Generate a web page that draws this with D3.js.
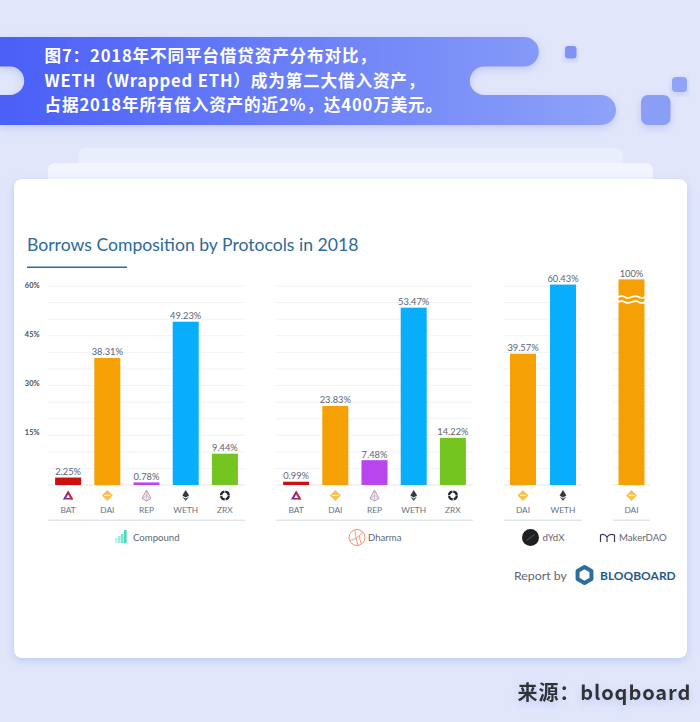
<!DOCTYPE html>
<html>
<head>
<meta charset="utf-8">
<script src="https://cdn.jsdelivr.net/npm/d3@7"></script>
<style>
  html, body { margin: 0; padding: 0; background: #e1e6fb; }
  svg { display: block; }
  text { font-family: Lato, sans-serif; }
  .cjk { font-family: "Noto Sans CJK SC", sans-serif; font-weight: 700; }
</style>
</head>
<body>
<div id="chart"></div>
<script>
// values
const compoundTokens = ["BAT", "DAI", "REP", "WETH", "ZRX"];
const compoundValues = [2.25, 38.31, 0.78, 49.23, 9.44];
const dharmaTokens = ["BAT", "DAI", "REP", "WETH", "ZRX"];
const dharmaValues = [0.99, 23.83, 7.48, 53.47, 14.22];
const dydxTokens = ["DAI", "WETH"];
const dydxValues = [39.57, 60.43];
const makerTokens = ["DAI"];
const makerValues = [100];
const yTicks = [15, 30, 45, 60];
const gridTicks = d3.range(5, 65, 5);
const headerLines = [
  "图7：2018年不同平台借贷资产分布对比，",
  "WETH（Wrapped ETH）成为第二大借入资产，",
  "占据2018年所有借入资产的近2%，达400万美元。"
];
const chartTitle = "Borrows Composition by Protocols in 2018";

const tokenColor = { BAT: "#cc1010", DAI: "#f5a105", REP: "#b845ee", WETH: "#08aefb", ZRX: "#74c520" };

const width = 700, height = 722;
const svg = d3.select("#chart").append("svg").attr("width", width).attr("height", height);
const defs = svg.append("defs");

const grad = defs.append("linearGradient").attr("id", "headGrad");
grad.append("stop").attr("offset", "0").attr("stop-color", "#4a5ff6");
grad.append("stop").attr("offset", "1").attr("stop-color", "#8ea2f9");

const soft = defs.append("filter").attr("id", "soft").attr("x", "-20%").attr("y", "-20%").attr("width", "140%").attr("height", "150%");
soft.append("feDropShadow").attr("dx", 0).attr("dy", 3).attr("stdDeviation", 4).attr("flood-color", "#8f9fe8").attr("flood-opacity", 0.4);

// background
svg.append("rect").attr("width", width).attr("height", height).attr("fill", "#e1e6fb");

// header ribbon
const ribbon = d3.path();
ribbon.moveTo(0, 37);
ribbon.lineTo(524, 37);
ribbon.arc(524, 51.8, 14.8, -Math.PI / 2, Math.PI / 2);
ribbon.lineTo(484, 66.6);
ribbon.arc(484, 80.8, 14.2, -Math.PI / 2, Math.PI / 2, true);
ribbon.lineTo(601, 95);
ribbon.arc(601, 110, 15, -Math.PI / 2, Math.PI / 2);
ribbon.lineTo(0, 125);
ribbon.lineTo(0, 95);
ribbon.lineTo(10, 95);
ribbon.arc(10, 80.8, 14.2, Math.PI / 2, -Math.PI / 2, true);
ribbon.lineTo(0, 66.6);
ribbon.closePath();
svg.append("path").attr("d", ribbon.toString()).attr("fill", "url(#headGrad)").attr("filter", "url(#soft)");

svg.selectAll(".head").data(headerLines).enter().append("text")
  .attr("class", "cjk")
  .attr("x", 44.5)
  .attr("y", (d, i) => 62.3 + i * 24.4)
  .attr("fill", "#fff")
  .attr("font-size", 16.6)
  .attr("letter-spacing", 0.85)
  .text(d => d);

// little squares right of the ribbon
const squares = [[565, 46, 11.5, 12.5, 3, "#7f93f3"], [672, 77, 15, 15, 4, "#8fa3f8"], [641, 95, 29.5, 30, 7, "#8a9ef6"]];
svg.selectAll(".sq").data(squares).enter().append("rect")
  .attr("x", d => d[0]).attr("y", d => d[1]).attr("width", d => d[2]).attr("height", d => d[3]).attr("rx", d => d[4])
  .attr("fill", d => d[5]).attr("filter", "url(#soft)");

// stacked cards
svg.append("rect").attr("x", 78).attr("y", 148).attr("width", 545).attr("height", 60).attr("rx", 7).attr("fill", "#eaeefc");
svg.append("rect").attr("x", 48).attr("y", 163).attr("width", 605).attr("height", 60).attr("rx", 7).attr("fill", "#f2f5fd");
svg.append("rect").attr("x", 14).attr("y", 179).attr("width", 673).attr("height", 479).attr("rx", 8).attr("fill", "#fff").attr("filter", "url(#soft)");

// title
svg.append("text").attr("x", 27).attr("y", 250.5).attr("font-size", 17.6).attr("fill", "#2b6a9b").text(chartTitle);
svg.append("rect").attr("x", 27).attr("y", 266.5).attr("width", 100).attr("height", 1.5).attr("fill", "#2b6a9b");

// shared y scale, 0 at the baseline
const y = d3.scaleLinear().domain([0, 60]).range([485, 286]);

// the tick labels sit a little above their gridlines in the original
const yLabel = d3.scaleLinear().domain([15, 60]).range([432.3, 284.7]);
const yAxis = d3.axisLeft(yLabel).tickValues(yTicks).tickSize(0).tickFormat(d => d + "%");
const yG = svg.append("g").attr("transform", "translate(39.5,0)").call(yAxis);
yG.select(".domain").remove();
yG.selectAll("text").attr("font-size", 7.4).attr("font-weight", 700).attr("fill", "#4a4f57").attr("x", 0).attr("text-anchor", "end");

// token icons
function drawIcon(g, token) {
  if (token === "BAT") {
    g.append("path").attr("d", "M0,-5 L5.2,4 L-5.2,4 Z").attr("fill", "#7b2a9c");
    g.append("path").attr("d", "M0,-5 L5.2,4 L2.4,4 L0,-0.6 Z").attr("fill", "#d8262c");
    g.append("path").attr("d", "M0,-1 L2,2.6 L-2,2.6 Z").attr("fill", "#fff");
  } else if (token === "DAI") {
    g.append("path").attr("d", "M0,-5.5 L5.5,0 L0,5.5 L-5.5,0 Z").attr("fill", "#f9c14a");
    g.append("rect").attr("x", -3).attr("y", -0.6).attr("width", 6).attr("height", 1).attr("fill", "#fff");
  } else if (token === "REP") {
    g.append("path").attr("d", "M0,-5.5 L4.5,3 L0,5.5 L-4.5,3 Z").attr("fill", "#f3e6f0").attr("stroke", "#a98aa5").attr("stroke-width", 0.8);
    g.append("path").attr("d", "M0,-5.5 L0,5.5 M-4.5,3 L0,0 L4.5,3").attr("fill", "none").attr("stroke", "#b99fb5").attr("stroke-width", 0.5);
  } else if (token === "WETH") {
    g.append("path").attr("d", "M0,-5.5 L3.4,0 L0,2 L-3.4,0 Z").attr("fill", "#333a40");
    g.append("path").attr("d", "M-3.4,1 L0,3 L3.4,1 L0,5.5 Z").attr("fill", "#4a5158");
  } else if (token === "ZRX") {
    g.append("circle").attr("r", 3.9).attr("fill", "none").attr("stroke", "#20252b").attr("stroke-width", 2.2).attr("stroke-dasharray", "5.2 0.9");
  }
}

// one panel per protocol
function drawPanel(tokens, values, x0, x1, barStep) {
  const pad = (x1 - x0 - barStep * tokens.length) / 2;
  const x = d3.scaleBand().domain(tokens).range([x0 + pad, x1 - pad]).paddingInner(1 - 26 / barStep).paddingOuter((1 - 26 / barStep) / 2);
  const g = svg.append("g");

  g.selectAll(".grid").data(gridTicks).enter().append("line")
    .attr("x1", x0).attr("x2", x1).attr("y1", d => y(d)).attr("y2", d => y(d))
    .attr("stroke", "#f0f2f5").attr("stroke-width", 1);
  g.append("line").attr("x1", x0).attr("x2", x1).attr("y1", y(0)).attr("y2", y(0)).attr("stroke", "#e4e6ea").attr("stroke-width", 1);

  // the 100% bar is broken, so its height stops just above the axis top
  const capped = v => y(Math.min(v, 62));
  g.selectAll(".bar").data(tokens).enter().append("rect")
    .attr("x", d => x(d))
    .attr("width", x.bandwidth())
    .attr("y", (d, i) => capped(values[i]))
    .attr("height", (d, i) => y(0) - capped(values[i]))
    .attr("fill", d => tokenColor[d]);

  g.selectAll(".val").data(tokens).enter().append("text")
    .attr("x", d => x(d) + x.bandwidth() / 2)
    .attr("y", (d, i) => capped(values[i]) - 2.5)
    .attr("text-anchor", "middle")
    .attr("font-size", 9.3)
    .attr("fill", "#5b6472")
    .text((d, i) => values[i] + "%");

  tokens.forEach(t => {
    const c = x(t) + x.bandwidth() / 2;
    drawIcon(g.append("g").attr("transform", `translate(${c},495.5)`), t);
    g.append("text").attr("x", c).attr("y", 513).attr("text-anchor", "middle")
      .attr("font-size", 8.4).attr("fill", "#6b7380").text(t);
  });

  g.append("rect").attr("x", x0).attr("y", 519.5).attr("width", x1 - x0).attr("height", 1.5).attr("fill", "#e4e6ea");
  return x;
}

drawPanel(compoundTokens, compoundValues, 48, 245, 39.2);
drawPanel(dharmaTokens, dharmaValues, 276, 473, 39.2);
drawPanel(dydxTokens, dydxValues, 504, 582, 40);
const makerX = drawPanel(makerTokens, makerValues, 613, 650, 37);

// break mark on the MakerDAO bar
const wave = d3.line().curve(d3.curveBasis)
  .x(d => makerX("DAI") - 1 + d[0] * (makerX.bandwidth() + 2))
  .y(d => d[1]);
const wavePts = [[0, 0], [0.17, -1.8], [0.34, 1.8], [0.5, 0], [0.67, -1.8], [0.84, 1.8], [1, 0]];
[297, 302].forEach(yy => {
  svg.append("path").attr("d", wave(wavePts)).attr("transform", `translate(0,${yy})`)
    .attr("fill", "none").attr("stroke", "#fff").attr("stroke-width", 1.8);
});

// protocol names with their marks
const names = [["Compound", 133], ["Dharma", 368], ["dYdX", 542.5], ["MakerDAO", 619]];
svg.selectAll(".proto").data(names).enter().append("text")
  .attr("x", d => d[1]).attr("y", 541).attr("font-size", 9.6).attr("fill", "#5e6675").text(d => d[0]);

const comp = svg.append("g").attr("transform", "translate(115,543)");
[[0, 5, "#c3f1e6"], [3, 7, "#a0ebdb"], [6, 9, "#7be4d0"], [9, 13, "#49d8bf"]].forEach(b => {
  comp.append("rect").attr("x", b[0]).attr("y", -b[1]).attr("width", 2.6).attr("height", b[1]).attr("fill", b[2]);
});

const dh = svg.append("g").attr("transform", "translate(357,537.5)");
dh.append("circle").attr("r", 8).attr("fill", "#fff").attr("stroke", "#f0916f").attr("stroke-width", 1);
dh.append("path").attr("d", "M-7,3 L-1,1 L6,-5 M-1,1 L-2,-7.5 M-1,1 L1,7.5 M2,-2 L4,6").attr("fill", "none").attr("stroke", "#f0916f").attr("stroke-width", 0.9);

const dy = svg.append("g").attr("transform", "translate(530.5,537.5)");
dy.append("circle").attr("r", 8.5).attr("fill", "#1e1f21");
dy.append("path").attr("d", "M-4,3 L4,-3").attr("stroke", "#888").attr("stroke-width", 0.6);

svg.append("path").attr("d", "M600.5,542 L600.5,535 Q604,533 607,537 Q610,533 614.5,535 L614.5,542 M607,537 L607,542")
  .attr("fill", "none").attr("stroke", "#3d3654").attr("stroke-width", 1.2);

// report by
svg.append("text").attr("x", 514).attr("y", 579.5).attr("font-size", 12.3).attr("fill", "#5e6675").text("Report by");
const hex = d3.range(6).map(i => [Math.sin(i * Math.PI / 3) * 8 + 584.5, -Math.cos(i * Math.PI / 3) * 8 + 575]);
svg.append("path").attr("d", d3.line()(hex) + "Z").attr("fill", "#fff").attr("stroke", "#2f6d9f").attr("stroke-width", 4).attr("stroke-linejoin", "round");
svg.append("text").attr("x", 600).attr("y", 580).attr("font-size", 12).attr("font-weight", 700).attr("fill", "#1f5a8c").text("BLOQBOARD");

// source line
svg.append("text").attr("class", "cjk").attr("x", 517.5).attr("y", 700).attr("font-size", 20).attr("letter-spacing", 0.9)
  .attr("fill", "#333").attr("filter", "url(#soft)").text("来源：bloqboard");
</script>
</body>
</html>
